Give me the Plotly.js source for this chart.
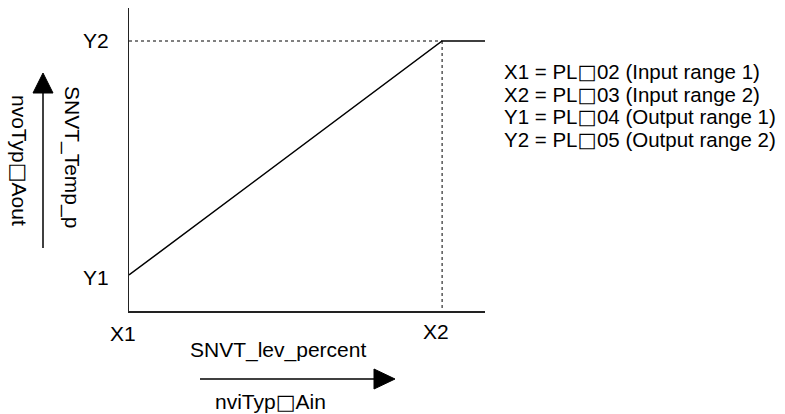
<!DOCTYPE html>
<html>
<head>
<meta charset="utf-8">
<script src="https://cdn.plot.ly/plotly-3.0.1.min.js"></script>
<style>html,body{margin:0;padding:0;background:#fff;}#chart{width:785px;height:414px;}</style>
</head>
<body>
<div id="chart"></div>
<script>
// ---- data ----
var inputValues  = [0, 1, 1.137];   // X1 -> X2 -> end of axis
var outputValues = [0, 1, 1];       // Y1 -> Y2 -> saturate
var xTickVals = [0, 1];
var xTickLabels = ['X1', 'X2'];
var yTickVals = [0, 1];
var yTickLabels = ['Y1', 'Y2'];
var BOX = '<span style="font-family:\'DejaVu Sans\';font-weight:bold">\u25A1</span>';
var xAxisTitle = 'SNVT_lev_percent';
var xAxisSub = 'nviTyp' + BOX + 'Ain';
var yAxisTitle = 'SNVT_Temp_p';
var yAxisSub = 'nvoTyp' + BOX + 'Aout';
var legendLines = [
  'X1 = PL' + BOX + '02 (Input range 1)',
  'X2 = PL' + BOX + '03 (Input range 2)',
  'Y1 = PL' + BOX + '04 (Output range 1)',
  'Y2 = PL' + BOX + '05 (Output range 2)'
];

// ---- layout helpers (pixel -> paper) ----
var W = 785, H = 414;
function px(x){ return x / W; }
function py(y){ return 1 - y / H; }
var FONT = {family: 'Liberation Sans, Arial, sans-serif', size: 21, color: '#000'};
var LFONT = {family: 'Liberation Sans, Arial, sans-serif', size: 20.5, color: '#000'};

var traces = [
  {x: inputValues, y: outputValues, mode: 'lines', line: {color: '#000', width: 1.5}, hoverinfo: 'skip'},
  {x: [xTickVals[0], xTickVals[1]], y: [yTickVals[1], yTickVals[1]], mode: 'lines',
   line: {color: '#000', width: 1, dash: 'dot'}, hoverinfo: 'skip'},
  {x: [xTickVals[1], xTickVals[1]], y: [yTickVals[1], -0.1538], mode: 'lines',
   line: {color: '#000', width: 1, dash: 'dot'}, hoverinfo: 'skip'}
];

var annotations = [];
// tick-like labels
annotations.push({xref: 'paper', yref: 'y', x: px(111), y: yTickVals[1], text: yTickLabels[1], showarrow: false, xanchor: 'right', yanchor: 'middle', font: FONT});
annotations.push({xref: 'paper', yref: 'y', x: px(111), y: yTickVals[0], yshift: -2, text: yTickLabels[0], showarrow: false, xanchor: 'right', yanchor: 'middle', font: FONT});
annotations.push({xref: 'x', yref: 'paper', x: xTickVals[0], xshift: -6, y: py(333), text: xTickLabels[0], showarrow: false, xanchor: 'center', yanchor: 'middle', font: FONT});
annotations.push({xref: 'x', yref: 'paper', x: xTickVals[1], xshift: -6, y: py(331), text: xTickLabels[1], showarrow: false, xanchor: 'center', yanchor: 'middle', font: FONT});
// axis titles
annotations.push({xref: 'paper', yref: 'paper', x: px(278), y: py(350), text: xAxisTitle, showarrow: false, xanchor: 'center', yanchor: 'middle', font: FONT});
annotations.push({xref: 'paper', yref: 'paper', x: px(270), y: py(402), text: xAxisSub, showarrow: false, xanchor: 'center', yanchor: 'middle', font: FONT});
annotations.push({xref: 'paper', yref: 'paper', x: px(72), y: py(157), text: yAxisTitle, textangle: 90, showarrow: false, xanchor: 'center', yanchor: 'middle', font: FONT});
annotations.push({xref: 'paper', yref: 'paper', x: px(19), y: py(160), text: yAxisSub, textangle: 90, showarrow: false, xanchor: 'center', yanchor: 'middle', font: FONT});
// legend text
var legY = [71.5, 94.5, 117.5, 140.5];
legendLines.forEach(function(t, i){
  annotations.push({xref: 'paper', yref: 'paper', x: px(502), y: py(legY[i]), text: t, showarrow: false, xanchor: 'left', yanchor: 'middle', font: LFONT});
});

var shapes = [
  // vertical arrow
  {type: 'line', xref: 'paper', yref: 'paper', x0: px(43), x1: px(43), y0: py(248), y1: py(92), line: {color: '#000', width: 1.5}},
  {type: 'path', xref: 'paper', yref: 'paper',
   path: 'M ' + px(33) + ',' + py(93) + ' L ' + px(53) + ',' + py(93) + ' L ' + px(43) + ',' + py(73) + ' Z',
   fillcolor: '#000', line: {color: '#000', width: 1}},
  // horizontal arrow
  {type: 'line', xref: 'paper', yref: 'paper', x0: px(200), x1: px(375), y0: py(379), y1: py(379), line: {color: '#000', width: 1.5}},
  {type: 'path', xref: 'paper', yref: 'paper',
   path: 'M ' + px(374) + ',' + py(369) + ' L ' + px(374) + ',' + py(389) + ' L ' + px(395) + ',' + py(379) + ' Z',
   fillcolor: '#000', line: {color: '#000', width: 1}}
];

var layout = {
  width: W, height: H,
  margin: {l: 0, r: 0, t: 0, b: 0, pad: 0},
  paper_bgcolor: '#fff', plot_bgcolor: '#fff',
  showlegend: false,
  font: FONT,
  xaxis: {domain: [px(129), px(485)], range: [0, 1.137], showgrid: false, zeroline: false,
          showticklabels: false, ticks: '', showline: true, linecolor: '#222', linewidth: 1.5, fixedrange: true},
  yaxis: {domain: [py(311), py(8)], range: [-0.1538, 1.141], showgrid: false, zeroline: false,
          showticklabels: false, ticks: '', showline: true, linecolor: '#222', linewidth: 1.5, fixedrange: true},
  annotations: annotations,
  shapes: shapes
};

Plotly.newPlot('chart', traces, layout, {displayModeBar: false, staticPlot: true});
</script>
</body>
</html>
